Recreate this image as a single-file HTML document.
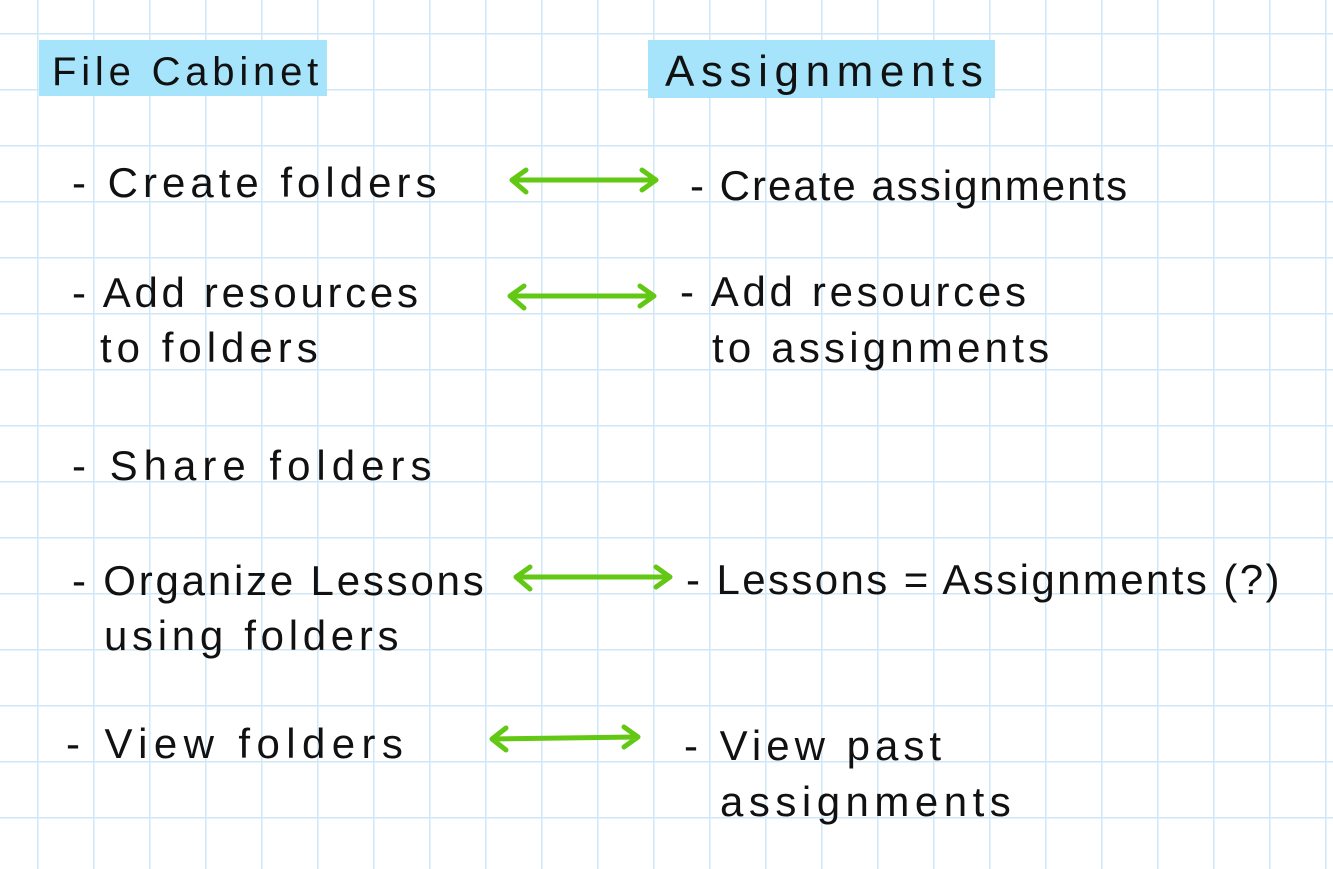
<!DOCTYPE html>
<html><head><meta charset="utf-8"><style>
body{margin:0;width:1333px;height:869px;overflow:hidden;background:#fff;
background-image:linear-gradient(to right,#cfe7f6 1.5px,transparent 1.5px),linear-gradient(to bottom,#cfe7f6 1.5px,transparent 1.5px);
background-size:56px 56px;background-position:37px 33px;position:relative;
font-family:"Liberation Sans",sans-serif;color:#111}
.t{position:absolute;font-size:42px;white-space:nowrap;letter-spacing:2px;line-height:56px}
.hl{position:absolute;background:#a6e4fb}
svg{position:absolute;left:0;top:0}
</style></head><body>
<div class="hl" style="left:39px;top:40px;width:288px;height:56px"></div>
<div class="hl" style="left:648px;top:40px;width:347px;height:58px"></div>
<div class="t" style="left:52px;top:44px;font-size:40px;letter-spacing:4.8px">File Cabinet</div>
<div class="t" style="left:665px;top:44px;font-size:44px;letter-spacing:6.6px">Assignments</div>

<div class="t" style="left:72px;top:155px;letter-spacing:5px">- Create folders</div>
<div class="t" style="left:72px;top:265px;letter-spacing:3.7px">- Add resources</div>
<div class="t" style="left:100px;top:320px;letter-spacing:5px">to folders</div>
<div class="t" style="left:72px;top:438px;letter-spacing:6px">- Share folders</div>
<div class="t" style="left:72px;top:553px;letter-spacing:2.8px">- Organize Lessons</div>
<div class="t" style="left:104px;top:608px;letter-spacing:4.7px">using folders</div>
<div class="t" style="left:66px;top:716px;letter-spacing:6.4px">- View folders</div>

<div class="t" style="left:690px;top:158px">- Create assignments</div>
<div class="t" style="left:680px;top:264px;letter-spacing:3.7px">- Add resources</div>
<div class="t" style="left:712px;top:320px;letter-spacing:4.2px">to assignments</div>
<div class="t" style="left:686px;top:552px;letter-spacing:2.4px">- Lessons = Assignments (?)</div>
<div class="t" style="left:684px;top:718px;letter-spacing:5px">- View past</div>
<div class="t" style="left:720px;top:774px;letter-spacing:5.5px">assignments</div>

<svg width="1333" height="869" fill="none" stroke="#62c814" stroke-width="5" stroke-linecap="round" stroke-linejoin="round">
<path d="M512 180 L656 180 M526 170 L512 180 L526 192 M642 170 L656 180 L642 190"/>
<path d="M510 296 L654 296 M524 286 L510 296 L524 308 M640 286 L654 296 L640 306"/>
<path d="M516 577 L670 577 M530 567 L516 577 L530 589 M656 567 L670 577 L656 587"/>
<path d="M492 739 L638 737 M506 728 L492 739 L506 750 M624 727 L638 737 L624 747"/>
</svg>
</body></html>
